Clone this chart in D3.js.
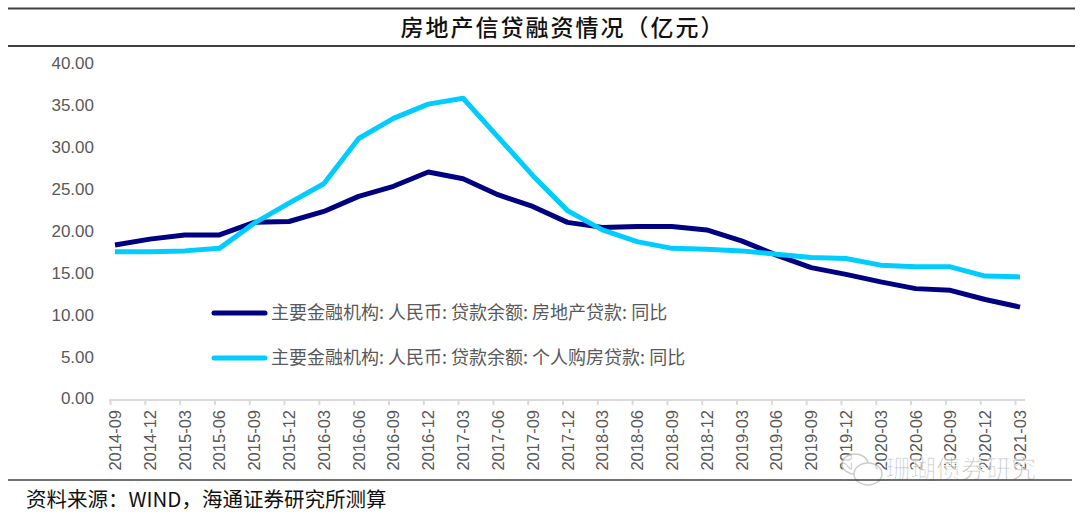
<!DOCTYPE html>
<html>
<head>
<meta charset="utf-8">
<script src="https://cdn.jsdelivr.net/npm/d3@7"></script>
<style>
  body { margin: 0; background: #fff; }
  svg { display: block; }
  .tick-y { font-family: "Liberation Sans", Arial, sans-serif; font-size: 17px; fill: #595959; }
  .tick-x { font-family: "Liberation Sans", Arial, sans-serif; font-size: 16.5px; fill: #595959; }
  .legend-text { font-family: "Noto Sans CJK SC", sans-serif; font-size: 18px; fill: #595959; }
</style>
</head>
<body>
<div id="graph"></div>
<script>
// quarters, 2014-09 .. 2021-03
const quarters = [
  "2014-09", "2014-12", "2015-03", "2015-06", "2015-09", "2015-12",
  "2016-03", "2016-06", "2016-09", "2016-12", "2017-03", "2017-06",
  "2017-09", "2017-12", "2018-03", "2018-06", "2018-09", "2018-12",
  "2019-03", "2019-06", "2019-09", "2019-12", "2020-03", "2020-06",
  "2020-09", "2020-12", "2021-03"
];

// 房地产贷款 同比
const realEstateLoans = [
  18.3, 19.0, 19.5, 19.5, 21.0, 21.1, 22.3, 24.1, 25.3, 27.0, 26.2, 24.3,
  22.9, 21.0, 20.4, 20.5, 20.5, 20.1, 18.8, 17.1, 15.6, 14.8, 13.9, 13.1,
  12.9, 11.8, 10.9
];

// 个人购房贷款 同比
const mortgageLoans = [
  17.5, 17.5, 17.6, 17.9, 20.9, 23.3, 25.6, 31.0, 33.4, 35.1, 35.8, 31.2,
  26.6, 22.4, 20.1, 18.7, 17.9, 17.8, 17.6, 17.2, 16.8, 16.7, 15.9, 15.7,
  15.7, 14.6, 14.5
];

const yTicks = [0, 5, 10, 15, 20, 25, 30, 35, 40];

const seriesNames = [
  "主要金融机构: 人民币: 贷款余额: 房地产贷款: 同比",
  "主要金融机构: 人民币: 贷款余额: 个人购房贷款: 同比"
];
const seriesColors = ["#000080", "#00ccff"];

const width = 1080;
const height = 517;

const svg = d3.select("#graph")
  .append("svg")
  .attr("width", width)
  .attr("height", height);

// title block
svg.append("line")
  .attr("x1", 8).attr("x2", 1075).attr("y1", 8.5).attr("y2", 8.5)
  .attr("stroke", "#404040").attr("stroke-width", 2);
svg.append("line")
  .attr("x1", 8).attr("x2", 1075).attr("y1", 46).attr("y2", 46)
  .attr("stroke", "#404040").attr("stroke-width", 2);
svg.append("text")
  .attr("x", 563).attr("y", 36)
  .attr("text-anchor", "middle")
  .style("font-family", "\"Noto Sans CJK SC\", sans-serif")
  .style("font-size", "23px")
  .style("font-weight", 500)
  .style("letter-spacing", "2px")
  .style("fill", "#111")
  .text("房地产信贷融资情况（亿元）");

const x = d3.scalePoint()
  .domain(quarters)
  .range([115, 1020]);

const y = d3.scaleLinear()
  .domain([0, 40])
  .range([398.5, 63]);

// y labels, no axis line
svg.append("g")
  .selectAll("text")
  .data(yTicks)
  .join("text")
  .attr("class", "tick-y")
  .attr("x", 94)
  .attr("y", d => y(d))
  .attr("dy", "0.35em")
  .attr("text-anchor", "end")
  .text(d => d.toFixed(2));

// x axis
const xAxis = svg.append("g")
  .attr("transform", "translate(0,400)");
xAxis.append("line")
  .attr("x1", 109).attr("x2", 1025)
  .attr("stroke", "#d9d9d9").attr("stroke-width", 2);
xAxis.selectAll(".tk")
  .data(quarters)
  .join("line")
  .attr("class", "tk")
  .attr("x1", d => x(d) - 4.5).attr("x2", d => x(d) - 4.5)
  .attr("y1", 0).attr("y2", 5)
  .attr("stroke", "#d9d9d9").attr("stroke-width", 2);
xAxis.selectAll("text")
  .data(quarters)
  .join("text")
  .attr("class", "tick-x")
  .attr("text-anchor", "end")
  .attr("transform", d => `translate(${x(d) + 6},10) rotate(-90)`)
  .text(d => d);

// lines
const line = d3.line()
  .x((d, i) => x(quarters[i]))
  .y(d => y(d));

[realEstateLoans, mortgageLoans].forEach((values, k) => {
  svg.append("path")
    .datum(values)
    .attr("fill", "none")
    .attr("stroke", seriesColors[k])
    .attr("stroke-width", 5)
    .attr("stroke-linejoin", "round")
    .attr("d", line);
});

// legend
seriesNames.forEach((name, k) => {
  const ly = 313 + k * 45;
  svg.append("line")
    .attr("x1", 214).attr("x2", 265)
    .attr("y1", ly).attr("y2", ly)
    .attr("stroke", seriesColors[k])
    .attr("stroke-width", 5)
    .attr("stroke-linecap", "round");
  svg.append("text")
    .attr("class", "legend-text")
    .attr("x", 271)
    .attr("y", ly)
    .attr("dy", "0.35em")
    .text(name);
});

// watermark
const wm = svg.append("g").attr("opacity", 0.75);
wm.append("ellipse").attr("cx", 855).attr("cy", 464).attr("rx", 13).attr("ry", 10)
  .attr("fill", "#fff").attr("stroke", "#bbb").attr("stroke-width", 1.5);
wm.append("ellipse").attr("cx", 868).attr("cy", 474).attr("rx", 14).attr("ry", 11)
  .attr("fill", "#fff").attr("stroke", "#bbb").attr("stroke-width", 1.5);
wm.append("text")
  .attr("x", 886).attr("y", 478)
  .style("font-family", "\"Noto Sans CJK SC\", sans-serif")
  .style("font-size", "25px")
  .style("fill", "#9a9a9a")
  .style("stroke", "#fff")
  .style("stroke-width", 1)
  .text("珊瑚债券研究");

// bottom rule and source
svg.append("line")
  .attr("x1", 8).attr("x2", 1072).attr("y1", 480).attr("y2", 480)
  .attr("stroke", "#404040").attr("stroke-width", 1.5);
svg.append("text")
  .attr("x", 26).attr("y", 507)
  .style("font-family", "\"Noto Sans CJK SC\", sans-serif")
  .style("font-size", "20.5px")
  .style("fill", "#111")
  .text("资料来源：WIND，海通证券研究所测算");
</script>
</body>
</html>
